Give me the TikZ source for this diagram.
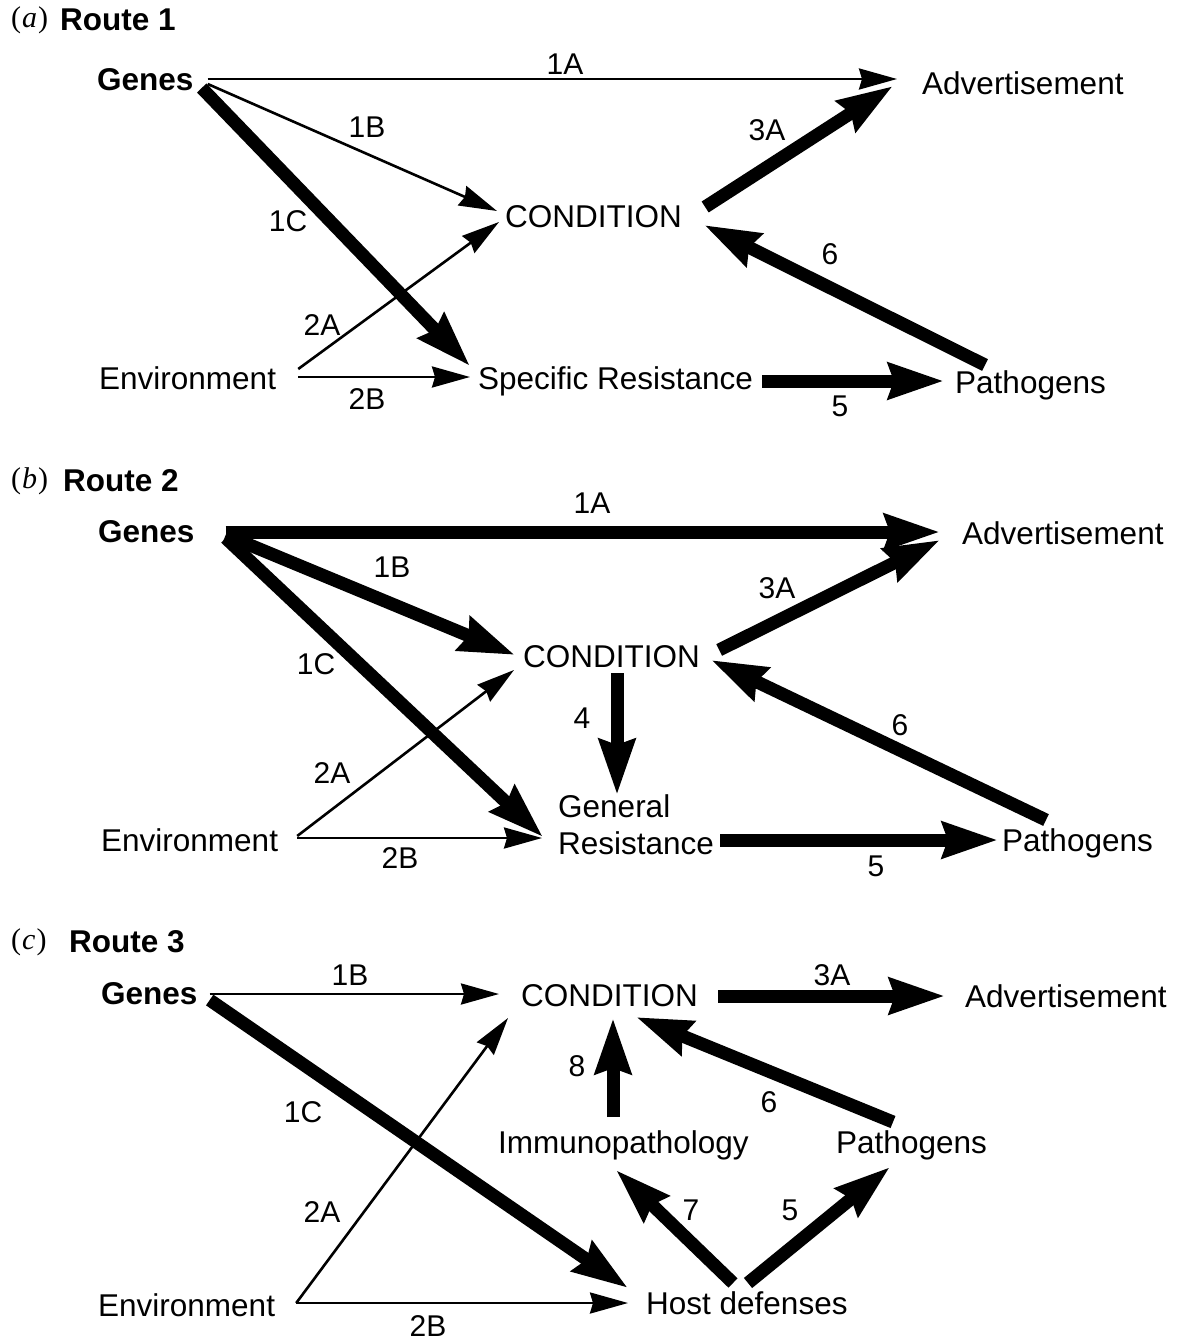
\documentclass[tikz,border=0pt]{standalone}
\usepackage{fontspec}
\setmainfont{Liberation Sans}
\newfontfamily\panelserif{Liberation Serif}
\usetikzlibrary{arrows.meta,calc}
\tikzset{
  txt/.style={inner sep=0pt, anchor=west, font=\fontsize{31.5}{37}\selectfont},
  btxt/.style={txt, font=\fontsize{31.5}{37}\selectfont\bfseries},
  lbl/.style={inner sep=0pt, font=\fontsize{30}{34}\selectfont},
  plbl/.style={inner sep=0pt, anchor=west, font=\fontsize{30}{34}\panelserif},
  thinarr/.style={line width=2.6pt, -{Stealth[length=38pt,width=21pt,inset=3pt]}},
  thickarr/.style={line width=13pt, -{Stealth[length=55pt,width=35pt,inset=5pt]}},
}
\begin{document}
\begin{tikzpicture}[x=1pt,y=-1pt]
\useasboundingbox[fill=white] (0,0) rectangle (1177,1341);

% ---------------- Panel (a)
\node[plbl] (pa) at (11,20) {(\kern1pt\textit{a}\kern1pt)};
\node[btxt] (ra) at (60,20) {Route 1};
\node[btxt] (ga) at (97,80) {Genes};
\node[txt] (adva) at (922,83) {Advertisement};
\node[txt] (conda) at (505,217) {CONDITION};
\node[txt] (enva) at (99,378) {Environment};
\node[txt] (speca) at (478,381) {Specific Resistance};
\node[txt] (patha) at (955,385) {Pathogens};

\draw[thinarr] ($(ga.east)+(14,-1)$) -- ($(adva.west)+(-25,-4)$);
\draw[thinarr] ($(ga.east)+(14,4)$) -- ($(conda.west)+(-8,-6)$);
\draw[thinarr] ($(enva.east)+(22,-9)$) -- ($(conda.west)+(-6,5)$);
\draw[thinarr] ($(enva.east)+(22,-1)$) -- ($(speca.west)+(-8,-4)$);
\draw[thickarr] ($(ga.east)+(8,8)$) -- ($(speca.west)+(-8,-15)$);
\draw[thickarr] ($(speca.east)+(9,0)$) -- ($(patha.west)+(-11,-4)$);
\draw[thickarr] ($(conda.east)+(23,-10)$) -- ($(adva.west)+(-29,3)$);
\draw[thickarr] ($(patha.west)+(30,-20)$) -- ($(conda.east)+(22,8)$);

\node[lbl] (la1A) at (565,64) {1A};
\node[lbl] (la1B) at (367,127) {1B};
\node[lbl] (la1C) at (288,221) {1C};
\node[lbl] (la2A) at (322,325) {2A};
\node[lbl] (la2B) at (367,399) {2B};
\node[lbl] (la5) at (840,406) {5};
\node[lbl] (la3A) at (767,130) {3A};
\node[lbl] (la6) at (830,254) {6};

% ---------------- Panel (b)
\node[plbl] (pb) at (11,481) {(\kern1pt\textit{b}\kern1pt)};
\node[btxt] (rb) at (63,481) {Route 2};
\node[btxt] (gb) at (98,532) {Genes};
\node[txt] (advb) at (962,533) {Advertisement};
\node[txt] (condb) at (523,657) {CONDITION};
\node[txt, align=left] (genb) at (558,825) {General\\Resistance};
\node[txt] (envb) at (101,840) {Environment};
\node[txt] (pathb) at (1002,843) {Pathogens};

\draw[thinarr] ($(envb.east)+(19,-4)$) -- ($(condb.west)+(-9,13)$);
\draw[thinarr] ($(envb.east)+(19,-2)$) -- ($(genb.west)+(-16,13)$);
\draw[thickarr] ($(gb.east)+(31,0)$) -- ($(advb.west)+(-22,-1)$);
\draw[thickarr] ($(gb.east)+(31,3)$) -- ($(condb.west)+(-8,-2)$);
\draw[thickarr] ($(gb.east)+(31,6)$) -- ($(genb.west)+(-15,12)$);
\draw[thickarr] ($(condb.west)+(94,16)$) -- ($(genb.west)+(59,-30)$);
\draw[thickarr] ($(genb.east)+(6,15)$) -- ($(pathb.west)+(-4,-3)$);
\draw[thickarr] ($(condb.east)+(19,-7)$) -- ($(advb.west)+(-22,7)$);
\draw[thickarr] ($(pathb.west)+(44,-23)$) -- ($(condb.east)+(11,3)$);

\node[lbl] (lb1A) at (592,503) {1A};
\node[lbl] (lb1B) at (392,567) {1B};
\node[lbl] (lb1C) at (316,664) {1C};
\node[lbl] (lb2A) at (332,773) {2A};
\node[lbl] (lb2B) at (400,858) {2B};
\node[lbl] (lb4) at (582,718) {4};
\node[lbl] (lb3A) at (777,588) {3A};
\node[lbl] (lb6) at (900,725) {6};
\node[lbl] (lb5) at (876,866) {5};

% ---------------- Panel (c)
\node[plbl] (pc) at (11,942) {(\kern1pt\textit{c}\kern1pt)};
\node[btxt] (rc) at (69,942) {Route 3};
\node[btxt] (gc) at (101,994) {Genes};
\node[txt] (condc) at (521,996) {CONDITION};
\node[txt] (advc) at (965,996) {Advertisement};
\node[txt] (imc) at (498,1145) {Immunopathology};
\node[txt] (pathc) at (836,1145) {Pathogens};
\node[txt] (hostc) at (646,1303) {Host defenses};
\node[txt] (envc) at (98,1305) {Environment};

\draw[thinarr] ($(gc.east)+(12,0)$) -- ($(condc.west)+(-22,-2)$);
\draw[thinarr] ($(envc.east)+(21,-2)$) -- ($(condc.west)+(-13,22)$);
\draw[thinarr] ($(envc.east)+(21,-2)$) -- ($(hostc.west)+(-18,0)$);
\draw[thickarr] ($(condc.east)+(20,0)$) -- ($(advc.west)+(-20,0)$);
\draw[thickarr] ($(gc.east)+(12,6)$) -- ($(hostc.west)+(-18,-15)$);
\draw[thickarr] ($(imc.west)+(115,-28)$) -- ($(condc.west)+(92,22)$);
\draw[thickarr] ($(pathc.west)+(57,-23)$) -- ($(condc.west)+(115,21)$);
\draw[thickarr] ($(hostc.west)+(87,-20)$) -- ($(imc.west)+(118,25)$);
\draw[thickarr] ($(hostc.west)+(102,-20)$) -- ($(pathc.west)+(54,22)$);

\node[lbl] (lc1B) at (350,975) {1B};
\node[lbl] (lc3A) at (832,975) {3A};
\node[lbl] (lc1C) at (303,1112) {1C};
\node[lbl] (lc2A) at (322,1212) {2A};
\node[lbl] (lc2B) at (428,1326) {2B};
\node[lbl] (lc8) at (577,1066) {8};
\node[lbl] (lc6) at (769,1102) {6};
\node[lbl] (lc7) at (691,1210) {7};
\node[lbl] (lc5) at (790,1210) {5};
\end{tikzpicture}
\end{document}
